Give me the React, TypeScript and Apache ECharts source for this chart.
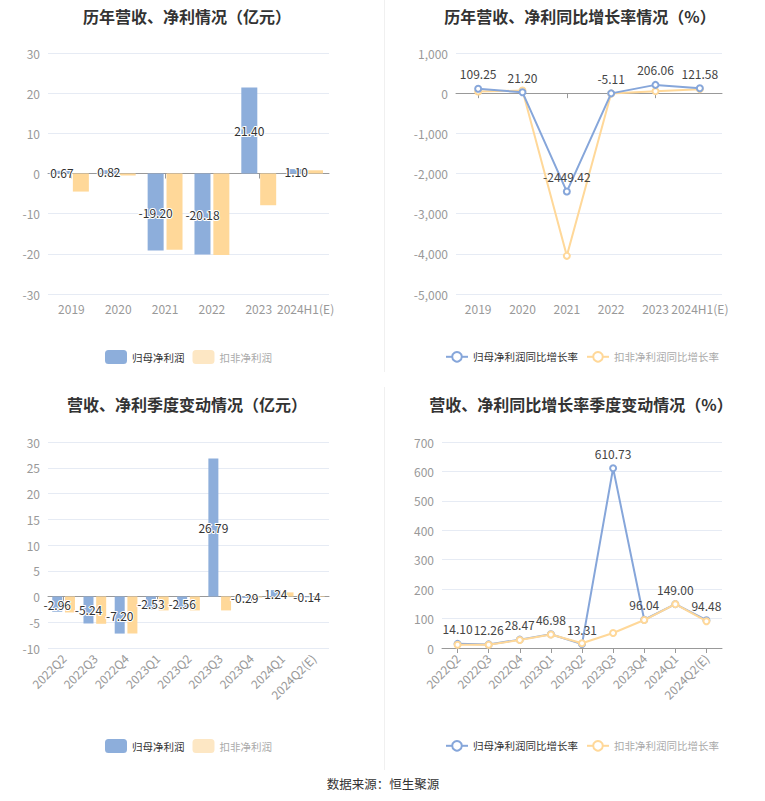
import React, { useEffect, useRef } from "react";
import * as echarts from "echarts";

const years = ["2019", "2020", "2021", "2022", "2023", "2024H1(E)"];
const annualNetProfit = [0.67, 0.82, -19.2, -20.18, 21.4, 1.1];
const annualDeductedProfit = [-4.5, -0.5, -19.0, -20.3, -7.9, 0.8];
const annualNetGrowth = [109.25, 21.2, -2449.42, -5.11, 206.06, 121.58];
const annualDeductedGrowth = [40, 65, -4050, -10, 50, 100];

const quarters = ["2022Q2", "2022Q3", "2022Q4", "2023Q1", "2023Q2", "2023Q3", "2023Q4", "2024Q1", "2024Q2(E)"];
const quarterNetProfit = [-2.96, -5.24, -7.2, -2.53, -2.56, 26.79, -0.29, 1.24, -0.14];
const quarterDeductedProfit = [-3.1, -5.3, -7.2, -2.7, -2.7, -2.7, -0.2, 0.8, -0.1];
const quarterNetGrowth = [14.1, 12.26, 28.47, 46.98, 13.31, 610.73, 96.04, 149.0, 94.48];
const quarterDeductedGrowth = [11, 11, 27, 46, 16, 51, 95, 149, 91];

const titles = ["历年营收、净利情况（亿元）", "历年营收、净利同比增长率情况（%）", "营收、净利季度变动情况（亿元）", "营收、净利同比增长率季度变动情况（%）"];
const barNames = ["归母净利润", "扣非净利润"];
const lineNames = ["归母净利润同比增长率", "扣非净利润同比增长率"];
const sourceText = "数据来源：恒生聚源";

const BLUE = "#8daedb";
const YELLOW = "#ffd899";
const LINE_BLUE = "#86a6da";
const FONT = "Noto Sans CJK SC";

export default function App() {
  const ref = useRef<HTMLDivElement>(null);
  useEffect(() => {
    if (!ref.current) return;
    const chart = echarts.init(ref.current, null, { renderer: "svg" });

    const grids = [
      { left: 48, top: 53, width: 281, height: 241 },
      { left: 456, top: 53, width: 266, height: 241 },
      { left: 48, top: 442, width: 281, height: 206 },
      { left: 442, top: 442, width: 280, height: 206 },
    ];
    const yRanges = [
      { min: -30, max: 30, interval: 10 },
      { min: -5000, max: 1000, interval: 1000 },
      { min: -10, max: 30, interval: 5 },
      { min: 0, max: 700, interval: 100 },
    ];
    const cats = [years, years, quarters, quarters];

    const yAxis = yRanges.map((r, i) => ({
      type: "value",
      gridIndex: i,
      ...r,
      axisLine: { show: false },
      axisTick: { show: false },
      axisLabel: { color: "#999", fontSize: 12, margin: 8 },
      splitLine: { lineStyle: { color: "#e6ebf4", width: 1 } },
    }));

    const xAxis: any[] = [];
    cats.forEach((c, i) => {
      xAxis.push({
        type: "category",
        gridIndex: i,
        data: c,
        position: "bottom",
        axisLine: { show: i === 3, onZero: false, lineStyle: { color: "#999" } },
        axisTick: { show: i === 3, alignWithLabel: true, lineStyle: { color: "#999" } },
        axisLabel: {
          color: "#999",
          fontSize: 12,
          rotate: i >= 2 ? 45 : 0,
          interval: 0,
          margin: 8,
        },
        splitLine: { show: false },
      });
    });
    [0, 1, 2].forEach((i) => {
      xAxis.push({
        type: "category",
        gridIndex: i,
        data: cats[i],
        position: "bottom",
        axisLine: { show: true, onZero: true, onZeroAxisIndex: i, lineStyle: { color: "#999" } },
        axisTick: { show: true, alignWithLabel: true, lineStyle: { color: "#999" } },
        axisLabel: { show: false },
        splitLine: { show: false },
      });
    });

    const barLabel = {
      show: true,
      position: "inside",
      color: "#333",
      fontSize: 12,
      textBorderColor: "#fff",
      textBorderWidth: 2,
      formatter: (p: any) => Number(p.value).toFixed(2),
    };
    const lineLabel = {
      show: true,
      position: "top",
      color: "#444",
      fontSize: 12,
      formatter: (p: any) => Number(p.value).toFixed(2),
    };

    const series: any[] = [
      {
        name: barNames[0], type: "bar", xAxisIndex: 0, yAxisIndex: 0, data: annualNetProfit,
        barWidth: 16, barGap: "18%", itemStyle: { color: BLUE }, label: barLabel, z: 3,
      },
      {
        name: barNames[1], type: "bar", xAxisIndex: 0, yAxisIndex: 0, data: annualDeductedProfit,
        barWidth: 16, barGap: "18%", itemStyle: { color: YELLOW }, z: 2,
      },
      {
        name: lineNames[0], type: "line", xAxisIndex: 1, yAxisIndex: 1, data: annualNetGrowth,
        symbol: "emptyCircle", symbolSize: 6, itemStyle: { color: LINE_BLUE }, lineStyle: { width: 2, color: LINE_BLUE },
        label: lineLabel, z: 3,
      },
      {
        name: lineNames[1], type: "line", xAxisIndex: 1, yAxisIndex: 1, data: annualDeductedGrowth,
        symbol: "emptyCircle", symbolSize: 6, itemStyle: { color: YELLOW }, lineStyle: { width: 2, color: YELLOW }, z: 2,
      },
      {
        name: barNames[0], type: "bar", xAxisIndex: 2, yAxisIndex: 2, data: quarterNetProfit,
        barWidth: 10, barGap: "27%", itemStyle: { color: BLUE }, label: barLabel, z: 3,
      },
      {
        name: barNames[1], type: "bar", xAxisIndex: 2, yAxisIndex: 2, data: quarterDeductedProfit,
        barWidth: 10, barGap: "27%", itemStyle: { color: YELLOW }, z: 2,
      },
      {
        name: lineNames[0], type: "line", xAxisIndex: 3, yAxisIndex: 3, data: quarterNetGrowth,
        symbol: "emptyCircle", symbolSize: 6, itemStyle: { color: LINE_BLUE }, lineStyle: { width: 2, color: LINE_BLUE },
        label: lineLabel, z: 2,
      },
      {
        name: lineNames[1], type: "line", xAxisIndex: 3, yAxisIndex: 3, data: quarterDeductedGrowth,
        symbol: "emptyCircle", symbolSize: 6, itemStyle: { color: YELLOW }, lineStyle: { width: 2, color: YELLOW }, z: 3,
      },
    ];

    const titleCenters = [
      { x: 182, y: 3 },
      { x: 575, y: 3 },
      { x: 182, y: 391 },
      { x: 576, y: 391 },
    ];

    const mkBarLegend = (top: number) => ({
      left: 100,
      top,
      itemWidth: 22,
      itemHeight: 14,
      itemGap: 8,
      textStyle: { fontSize: 10.5, color: "#333", fontFamily: FONT },
      data: [
        { name: barNames[0] },
        { name: barNames[1], itemStyle: { color: "#fde7c4" }, textStyle: { color: "#aaa" } },
      ],
    });
    const mkLineLegend = (top: number) => ({
      left: 440,
      top,
      itemWidth: 22,
      itemHeight: 12,
      itemGap: 8,
      textStyle: { fontSize: 10.5, color: "#333", fontFamily: FONT },
      data: [
        { name: lineNames[0] },
        { name: lineNames[1], textStyle: { color: "#aaa" } },
      ],
    });

    chart.setOption({
      animation: false,
      backgroundColor: "#fff",
      textStyle: { fontFamily: FONT },
      title: titles.map((t, i) => ({
        text: t,
        left: titleCenters[i].x,
        top: titleCenters[i].y,
        textAlign: "center",
        textStyle: { fontSize: 16, fontWeight: "bold", color: "#333", fontFamily: FONT },
      })),
      legend: [mkBarLegend(345), mkLineLegend(346), mkBarLegend(734), mkLineLegend(735)],
      grid: grids,
      xAxis,
      yAxis,
      series,
      graphic: [
        { type: "line", shape: { x1: 384.5, y1: 0, x2: 384.5, y2: 372 }, style: { stroke: "#f0f0f0", lineWidth: 1 } },
        { type: "line", shape: { x1: 384.5, y1: 387, x2: 384.5, y2: 770 }, style: { stroke: "#f0f0f0", lineWidth: 1 } },
        {
          type: "text",
          x: 383,
          y: 783,
          style: {
            text: sourceText,
            fontSize: 12.5,
            fill: "#333",
            align: "center",
            verticalAlign: "middle",
            fontFamily: FONT,
          },
        },
      ],
    });
    return () => chart.dispose();
  }, []);

  return <div ref={ref} style={{ position: "absolute", left: 0, top: 0, width: 765, height: 801 }} />;
}
